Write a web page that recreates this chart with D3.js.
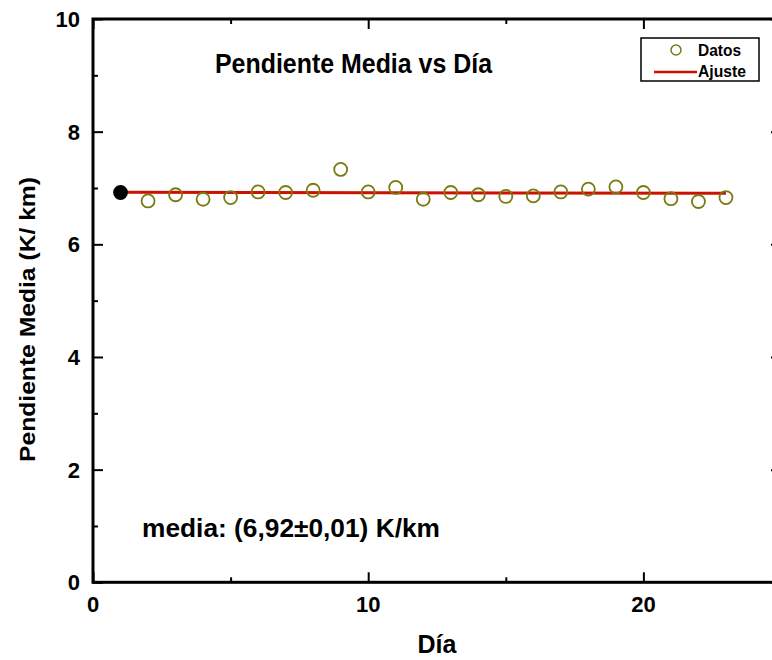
<!DOCTYPE html>
<html>
<head>
<meta charset="utf-8">
<script src="https://cdn.jsdelivr.net/npm/d3@7"></script>
<style>
html,body{margin:0;padding:0;background:#fff;overflow:hidden;}
svg{display:block;font-family:"Liberation Sans",Arial,sans-serif;}
</style>
</head>
<body>
<svg id="chart" width="772" height="660"></svg>
<script>
const dias = [1,2,3,4,5,6,7,8,9,10,11,12,13,14,15,16,17,18,19,20,21,22,23];
const pendiente = [6.92,6.77,6.88,6.80,6.83,6.93,6.92,6.96,7.33,6.93,7.01,6.80,6.92,6.88,6.85,6.86,6.93,6.98,7.02,6.92,6.81,6.76,6.83];
const ajusteX = [1,23];
const ajusteY = [6.925,6.905];
const xMajorTicks = [0,10,20];
const xMinorTicks = [5,15,25];
const yMajorTicks = [0,2,4,6,8,10];
const yMinorTicks = [1,3,5,7,9];
const titulo = "Pendiente Media vs Día";
const xLabel = "Día";
const yLabel = "Pendiente Media (K/ km)";
const nota = "media: (6,92±0,01) K/km";
const leyenda = ["Datos","Ajuste"];

const L = 93, R = 781, T = 19, B = 582.3;
const svg = d3.select("#chart");
const x = d3.scaleLinear().domain([0,25]).range([L,R]);
const y = d3.scaleLinear().domain([0,10]).range([B,T]);

const axW = 3;
function addAxis(gen, tx, ty, vals, len){
  const g = svg.append("g").attr("transform",`translate(${tx},${ty})`)
    .call(gen.tickValues(vals).tickSize(len).tickFormat(""));
  g.select(".domain").remove();
  g.selectAll(".tick line").attr("stroke","#000").attr("stroke-width",2);
  return g;
}
addAxis(d3.axisTop(x), 0, B, xMajorTicks, 10);
addAxis(d3.axisTop(x), 0, B, xMinorTicks, 5);
addAxis(d3.axisBottom(x), 0, T, xMajorTicks, 10);
addAxis(d3.axisBottom(x), 0, T, xMinorTicks, 5);
addAxis(d3.axisRight(y), L, 0, yMajorTicks, 10);
addAxis(d3.axisRight(y), L, 0, yMinorTicks, 5);
addAxis(d3.axisLeft(y), R, 0, yMajorTicks, 10);
addAxis(d3.axisLeft(y), R, 0, yMinorTicks, 5);

svg.append("rect").attr("x",L).attr("y",T).attr("width",R-L).attr("height",B-T)
  .attr("fill","none").attr("stroke","#000").attr("stroke-width",axW);

svg.append("g").selectAll("text").data(xMajorTicks).join("text")
  .attr("x",d=>x(d)).attr("y",612).attr("text-anchor","middle")
  .attr("font-size",22).attr("font-weight","bold").text(d=>d);
svg.append("g").selectAll("text").data(yMajorTicks).join("text")
  .attr("x",80).attr("y",d=>y(d)+8).attr("text-anchor","end")
  .attr("font-size",22).attr("font-weight","bold").text(d=>d);

const line = d3.line().x(d=>x(d[0])).y(d=>y(d[1]));
svg.append("path").datum(ajusteX.map((d,i)=>[d,ajusteY[i]]))
  .attr("d",line).attr("fill","none").attr("stroke","#cc1100").attr("stroke-width",3);

svg.append("g").selectAll("circle").data(dias.map((d,i)=>[d,pendiente[i]])).join("circle")
  .attr("cx",d=>x(d[0])).attr("cy",d=>y(d[1])).attr("r",6.5)
  .attr("fill",(d,i)=>i===0?"#000":"none")
  .attr("stroke",(d,i)=>i===0?"#000":"#7a7a10").attr("stroke-width",1.8);

svg.append("text").attr("x",215).attr("y",73).attr("font-size",27).attr("font-weight","bold")
  .attr("textLength",277).attr("lengthAdjust","spacingAndGlyphs").text(titulo);

svg.append("text").attr("x",142).attr("y",537).attr("font-size",25).attr("font-weight","bold")
  .attr("textLength",298).attr("lengthAdjust","spacingAndGlyphs").text(nota);

svg.append("text").attr("x",437).attr("y",653).attr("text-anchor","middle")
  .attr("font-size",25).attr("font-weight","bold").text(xLabel);
svg.append("text").attr("transform","translate(35,319.5) rotate(-90)").attr("text-anchor","middle")
  .attr("font-size",22).attr("font-weight","bold")
  .attr("textLength",285).attr("lengthAdjust","spacingAndGlyphs").text(yLabel);

const lg = svg.append("g");
lg.append("rect").attr("x",641).attr("y",38).attr("width",118).attr("height",43)
  .attr("fill","#fff").attr("stroke","#000").attr("stroke-width",1.5);
lg.append("circle").attr("cx",676).attr("cy",50).attr("r",5).attr("fill","none")
  .attr("stroke","#7a7a10").attr("stroke-width",1.5);
lg.append("line").attr("x1",654).attr("x2",697).attr("y1",72).attr("y2",72)
  .attr("stroke","#cc1100").attr("stroke-width",2.5);
lg.append("text").attr("x",698).attr("y",56).attr("font-size",16).attr("font-weight","bold")
  .attr("textLength",43).attr("lengthAdjust","spacingAndGlyphs").text(leyenda[0]);
lg.append("text").attr("x",698).attr("y",77).attr("font-size",16).attr("font-weight","bold")
  .attr("textLength",48).attr("lengthAdjust","spacingAndGlyphs").text(leyenda[1]);
</script>
</body>
</html>
